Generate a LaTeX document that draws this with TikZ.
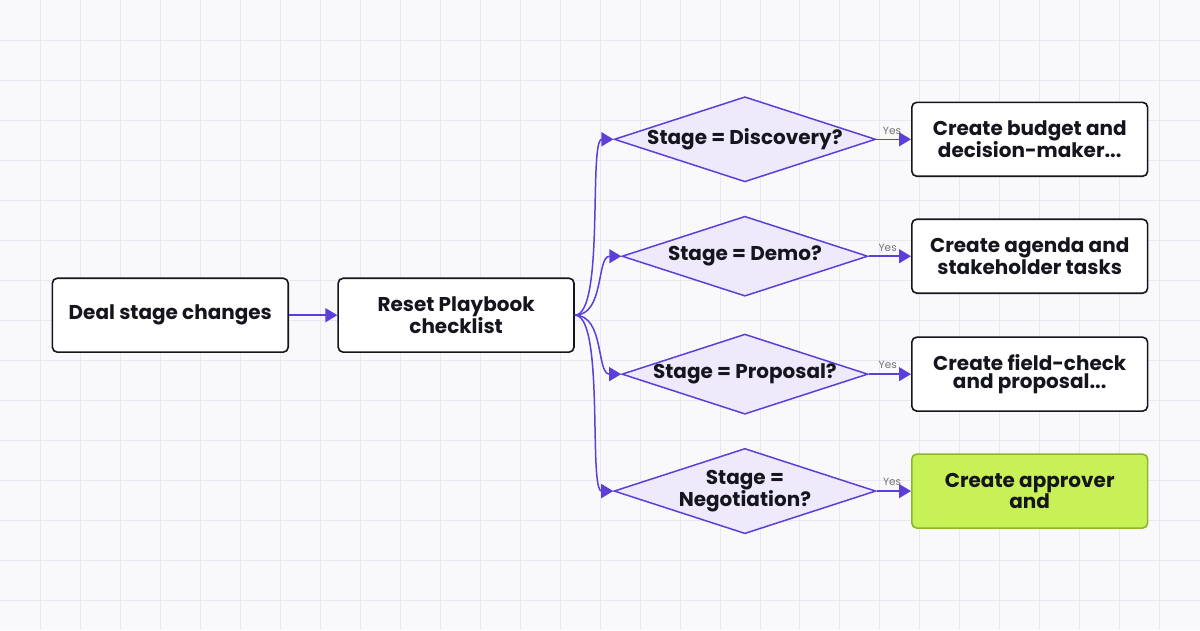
\documentclass[tikz,border=0pt]{standalone}
\usepackage{fontspec}
\setmainfont{Poppins}
\usetikzlibrary{shapes.geometric,arrows.meta,calc}
\definecolor{ln}{HTML}{5B3FD8}
\definecolor{dfill}{HTML}{EEEAFC}
\definecolor{grid}{HTML}{E9E7F2}
\definecolor{bg}{HTML}{F9F9FC}
\definecolor{gfill}{HTML}{C8F158}
\definecolor{gline}{HTML}{8DB62C}
\definecolor{txt}{HTML}{15151E}
\tikzset{
  box/.style={draw=txt,line width=1.6pt,rounded corners=5pt,fill=white,minimum width=236pt,minimum height=74pt,align=center,font=\fontsize{20}{19}\selectfont\bfseries,text=txt,inner sep=2pt},
  dec/.style={diamond,draw=ln,line width=1.5pt,fill=dfill,minimum width=246pt,minimum height=80pt,aspect=3.07,inner sep=0pt,align=center,font=\fontsize{20}{19}\selectfont\bfseries,text=txt},
  con/.style={draw=ln,line width=1.5pt,-{Triangle[length=12pt,width=14pt]}},
  yes/.style={font=\fontsize{10.5}{12}\selectfont,text=gray!90!black}
}
\begin{document}
\begin{tikzpicture}[x=1pt,y=-1pt]
\fill[bg] (0,0) rectangle (1200,630);
\foreach \x in {40,80,...,1160} \draw[grid,line width=0.8pt] (\x,0)--(\x,630);
\foreach \y in {40,80,...,600} \draw[grid,line width=0.8pt] (0,\y)--(1200,\y);
\useasboundingbox (0,0) rectangle (1200,630);
\node[box] (a) at (170,315) {Deal stage changes};
\node[box] (b) at (456,315) {Reset Playbook\\checklist};
\node[dec] (d1) at (745,139) {Stage = Discovery?};
\node[dec] (d2) at (745,256) {Stage = Demo?};
\node[dec] (d3) at (745,374) {Stage = Proposal?};
\node[dec] (d4) at (745,491) {Stage =\\Negotiation?};
\node[box] (r1) at (1030,139) {Create budget and\\decision-maker...};
\node[box] (r2) at (1030,256) {Create agenda and\\stakeholder tasks};
\node[box] (r3) at (1030,374) {Create field-check\\and proposal...};
\node[box,fill=gfill,draw=gline] (r4) at (1030,491) {Create approver\\and};
\draw[con] (a) -- (b);
\foreach \i in {1,2,3,4}{
  \draw[con] (b.east) .. controls +(30,0) and ($(d\i.west)+(-25,0)$) .. (d\i.west);
  \draw[con] (d\i.east) -- node[yes,above,pos=0.45,yshift=1pt]{Yes} (r\i.west);
}
\end{tikzpicture}
\end{document}
